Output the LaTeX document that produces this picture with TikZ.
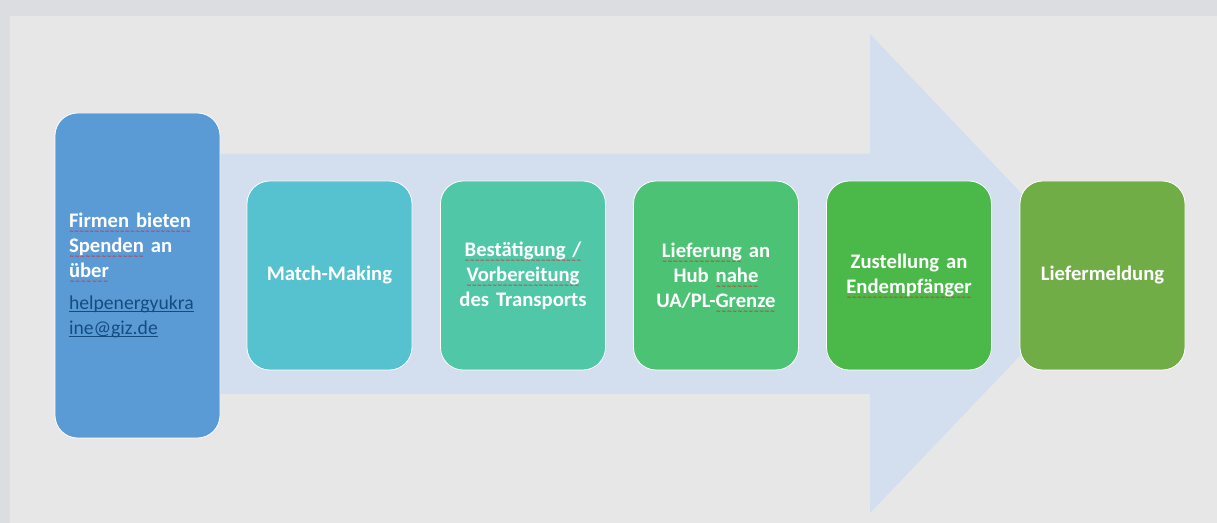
\documentclass[tikz,border=0pt]{standalone}
\usepackage{fontspec}
\setmainfont{Carlito}
\newfontfamily\wavefont{DejaVu Sans}
\usetikzlibrary{calc}
\definecolor{outergrey}{RGB}{220,221,224}
\definecolor{innergrey}{RGB}{231,231,231}
\definecolor{arrowblue}{RGB}{211,223,239}
\definecolor{firmblue}{RGB}{91,155,213}
\definecolor{matchcyan}{RGB}{86,193,207}
\definecolor{prepteal}{RGB}{80,200,168}
\definecolor{hubgreen}{RGB}{76,194,116}
\definecolor{delivgreen}{RGB}{75,185,74}
\definecolor{reportgreen}{RGB}{112,173,71}
\definecolor{mailblue}{RGB}{20,76,130}
\definecolor{squig}{RGB}{226,30,40}
\newsavebox{\wordbox}
\newlength{\wordwd}
% red wavy line under a word, as the spell check draws it
\newcommand{\sq}[1]{\leavevmode\sbox{\wordbox}{#1}\setlength{\wordwd}{\wd\wordbox}\rlap{\usebox{\wordbox}}\raisebox{-4.6pt}[0pt][0pt]{\hbox to\wordwd{\color{squig}\wavefont\fontsize{4.5}{5}\selectfont\xleaders\hbox{\char"223C}\hfill}}}
% plain underline for the mail address
\newcommand{\ulmail}[1]{\leavevmode\sbox{\wordbox}{#1}\setlength{\wordwd}{\wd\wordbox}\rlap{\usebox{\wordbox}}\rule[-2pt]{\wordwd}{0.6pt}}
\tikzset{
	stepbox/.style={draw=white, line width=0.6pt, rounded corners=17pt, minimum width=123.75pt, minimum height=141.75pt, text width=112pt, inner xsep=0pt, align=center, text=white, font=\bfseries\fontsize{15.5}{18.75}\selectfont},
	firstbox/.style={stepbox, minimum height=243.75pt, text width=102.75pt, inner xsep=10.5pt, align=left}
}
\begin{document}
\begin{tikzpicture}[x=0.75pt, y=-0.75pt]
			%%%%% START %%%%%
			
			\fill[outergrey] (0, 0) rectangle (1217, 523);
			\fill[innergrey] (10, 16) rectangle (1217, 523);
			\useasboundingbox (0, 0) rectangle (1217, 523);
			
			\fill[arrowblue] (60, 154) -- (870, 154) -- (870, 34) -- (1098, 274) -- (870, 513) -- (870, 394) -- (60, 394) -- cycle;
			
			\node[firstbox, fill=firmblue] (spenden) at (137.5, 275.5) {\sq{Firmen bieten}\\\sq{Spenden} an\\\sq{über}\\[5pt]{\mdseries\fontsize{14.75}{18.75}\selectfont\color{mailblue}\ulmail{helpenergyukra}\\\ulmail{ine@giz.de}}};
			
			\node[stepbox, fill=matchcyan] (matching) at (329.5, 275.5) {Match-Making};
			\node[stepbox, fill=prepteal] (vorbereitung) at (523, 275.5) {\sq{Bestätigung /}\\\sq{Vorbereitung}\\des Transports};
			\node[stepbox, fill=hubgreen] (lieferung) at (716, 275.5) {\sq{Lieferung} an\\Hub \sq{nahe}\\UA/PL-\sq{Grenze}};
			\node[stepbox, fill=delivgreen] (zustellung) at (909, 275.5) {Zustellung an\\\sq{Endempfänger}};
			\node[stepbox, fill=reportgreen] (meldung) at (1102.5, 275.5) {Liefermeldung};
			
			%%%%% END %%%%%
\end{tikzpicture}
\end{document}
